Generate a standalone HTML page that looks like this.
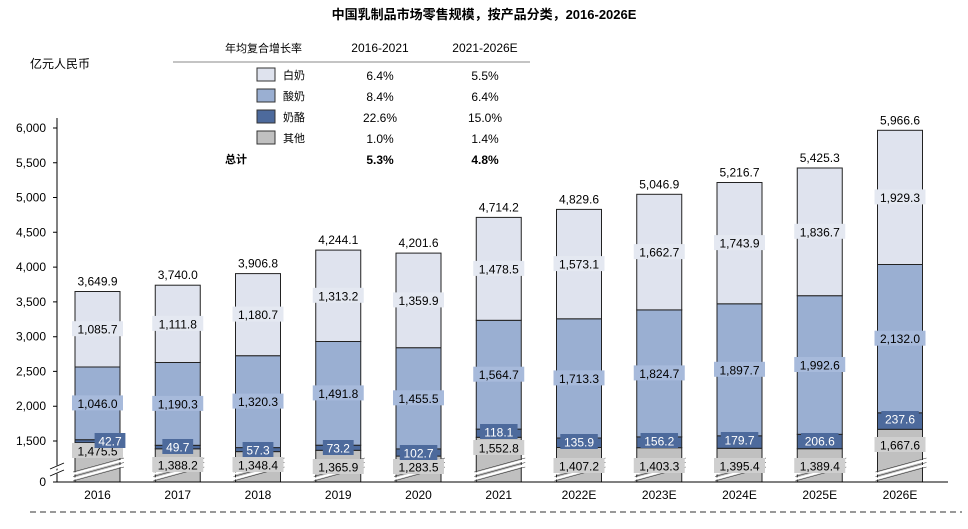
<!DOCTYPE html>
<html><head><meta charset="utf-8"><style>
body{margin:0;background:#fff}
svg text{font-family:"Liberation Sans","Noto Sans CJK SC",sans-serif;font-size:12px}
.o{fill:#c0c0c0;stroke:#222;stroke-width:1}
.c{fill:#4d6a9c;stroke:#222;stroke-width:1}
.y{fill:#9aafd2;stroke:#222;stroke-width:1}
.w{fill:#dfe3ee;stroke:#222;stroke-width:1}
.lw{fill:#e4e8f1}.ly{fill:#a7badb}.lc{fill:#4d6a9c}.lo{fill:#cfcfcf}
.m{text-anchor:middle}.wt{fill:#fff}
</style></head><body>
<svg width="968" height="524" viewBox="0 0 968 524" xmlns="http://www.w3.org/2000/svg">
<defs>
<g id="brk">
<path d="M-24.5 474 L26.5 460 M-24.5 479 L26.5 465" stroke="#fff" stroke-width="2.2" fill="none"/>
<path d="M-24.5 472 L26.5 458 M-24.5 476.5 L26.5 462.5 M-24.5 481 L26.5 467" stroke="#333" stroke-width="0.6" fill="none"/>
</g>
</defs>
<text x="484" y="19" class="m" style="font-size:13px;font-weight:bold">中国乳制品市场零售规模，按产品分类，2016-2026E</text>
<text x="30" y="68">亿元人民币</text>
<text x="225" y="52" style="font-size:11px">年均复合增长率</text>
<text x="380" y="52" class="m">2016-2021</text>
<text x="485" y="52" class="m">2021-2026E</text>
<line x1="173" y1="62" x2="530" y2="62" stroke="#888"/>
<rect x="257" y="68" width="18" height="13" fill="#dfe3ee" stroke="#333"/><text x="283" y="79" style="font-size:11px">白奶</text>
<rect x="257" y="89" width="18" height="13" fill="#9aafd2" stroke="#333"/><text x="283" y="100" style="font-size:11px">酸奶</text>
<rect x="257" y="110" width="18" height="13" fill="#4d6a9c" stroke="#333"/><text x="283" y="121" style="font-size:11px">奶酪</text>
<rect x="257" y="131" width="18" height="13" fill="#c0c0c0" stroke="#333"/><text x="283" y="142" style="font-size:11px">其他</text>
<text x="225" y="163" style="font-size:11px;font-weight:bold">总计</text>
<text x="380" y="80" class="m">6.4%</text><text x="485" y="80" class="m">5.5%</text>
<text x="380" y="101" class="m">8.4%</text><text x="485" y="101" class="m">6.4%</text>
<text x="380" y="122" class="m">22.6%</text><text x="485" y="122" class="m">15.0%</text>
<text x="380" y="143" class="m">1.0%</text><text x="485" y="143" class="m">1.4%</text>
<text x="380" y="164" class="m" style="font-weight:bold">5.3%</text><text x="485" y="164" class="m" style="font-weight:bold">4.8%</text>

<!-- y axis -->
<g style="text-anchor:end">
<text x="46" y="486">0</text>
<text x="46" y="445">1,500</text>
<text x="46" y="410.2">2,000</text>
<text x="46" y="375.4">2,500</text>
<text x="46" y="340.7">3,000</text>
<text x="46" y="305.9">3,500</text>
<text x="46" y="271.1">4,000</text>
<text x="46" y="236.3">4,500</text>
<text x="46" y="201.5">5,000</text>
<text x="46" y="166.8">5,500</text>
<text x="46" y="132">6,000</text>
</g>
<path d="M53 482H57M53 441H57M53 406.2H57M53 371.4H57M53 336.7H57M53 301.9H57M53 267.1H57M53 232.3H57M53 197.5H57M53 162.8H57M53 128H57" stroke="#000"/>

<!-- 2016 -->
<g transform="translate(97.5,0)">
<rect x="-22.5" y="442.7" width="45" height="39.3" class="o"/><rect x="-22.5" y="439.7" width="45" height="3" class="c"/><rect x="-22.5" y="367" width="45" height="72.7" class="y"/><rect x="-22.5" y="291.5" width="45" height="75.5" class="w"/>
<use href="#brk"/>
<text y="285.5" class="m">3,649.9</text>
<rect x="-25.5" y="321.2" width="51" height="15" class="lw"/><text y="333.7" class="m">1,085.7</text>
<rect x="-25.5" y="395.4" width="51" height="15" class="ly"/><text y="407.9" class="m">1,046.0</text>
<rect x="-25.5" y="443" width="51" height="15" class="lo"/><text y="455.5" class="m">1,475.5</text>
<rect x="-2.9" y="433" width="30.8" height="15" class="lc"/><text x="12.5" y="445.5" class="m wt">42.7</text>
<text y="499" class="m">2016</text>
</g>
<!-- 2017 -->
<g transform="translate(177.75,0)">
<rect x="-22.5" y="448.8" width="45" height="33.2" class="o"/><rect x="-22.5" y="445.3" width="45" height="3.5" class="c"/><rect x="-22.5" y="362.5" width="45" height="82.8" class="y"/><rect x="-22.5" y="285.2" width="45" height="77.3" class="w"/>
<use href="#brk"/>
<text y="279.2" class="m">3,740.0</text>
<rect x="-25.5" y="315.9" width="51" height="15" class="lw"/><text y="328.4" class="m">1,111.8</text>
<rect x="-25.5" y="395.9" width="51" height="15" class="ly"/><text y="408.4" class="m">1,190.3</text>
<rect x="-25.5" y="457" width="51" height="15" class="lo"/><text y="469.5" class="m">1,388.2</text>
<rect x="-15.4" y="439" width="30.8" height="15" class="lc"/><text y="451.5" class="m wt">49.7</text>
<text y="499" class="m">2017</text>
</g>
<!-- 2018 -->
<g transform="translate(258,0)">
<rect x="-22.5" y="451.6" width="45" height="30.4" class="o"/><rect x="-22.5" y="447.6" width="45" height="4" class="c"/><rect x="-22.5" y="355.7" width="45" height="91.9" class="y"/><rect x="-22.5" y="273.6" width="45" height="82.1" class="w"/>
<use href="#brk"/>
<text y="267.6" class="m">3,906.8</text>
<rect x="-25.5" y="306.6" width="51" height="15" class="lw"/><text y="319.1" class="m">1,180.7</text>
<rect x="-25.5" y="393.6" width="51" height="15" class="ly"/><text y="406.1" class="m">1,320.3</text>
<rect x="-25.5" y="457" width="51" height="15" class="lo"/><text y="469.5" class="m">1,348.4</text>
<rect x="-15.4" y="442" width="30.8" height="15" class="lc"/><text y="454.5" class="m wt">57.3</text>
<text y="499" class="m">2018</text>
</g>
<!-- 2019 -->
<g transform="translate(338.25,0)">
<rect x="-22.5" y="450.3" width="45" height="31.7" class="o"/><rect x="-22.5" y="445.2" width="45" height="5.1" class="c"/><rect x="-22.5" y="341.5" width="45" height="103.7" class="y"/><rect x="-22.5" y="250.1" width="45" height="91.4" class="w"/>
<use href="#brk"/>
<text y="244.1" class="m">4,244.1</text>
<rect x="-25.5" y="287.8" width="51" height="15" class="lw"/><text y="300.3" class="m">1,313.2</text>
<rect x="-25.5" y="385.4" width="51" height="15" class="ly"/><text y="397.9" class="m">1,491.8</text>
<rect x="-25.5" y="459" width="51" height="15" class="lo"/><text y="471.5" class="m">1,365.9</text>
<rect x="-15.4" y="440" width="30.8" height="15" class="lc"/><text y="452.5" class="m wt">73.2</text>
<text y="499" class="m">2019</text>
</g>
<!-- 2020 -->
<g transform="translate(418.5,0)">
<rect x="-22.5" y="456.1" width="45" height="25.9" class="o"/><rect x="-22.5" y="448.9" width="45" height="7.2" class="c"/><rect x="-22.5" y="347.7" width="45" height="101.2" class="y"/><rect x="-22.5" y="253.1" width="45" height="94.6" class="w"/>
<use href="#brk"/>
<text y="247.1" class="m">4,201.6</text>
<rect x="-25.5" y="292.4" width="51" height="15" class="lw"/><text y="304.9" class="m">1,359.9</text>
<rect x="-25.5" y="390.3" width="51" height="15" class="ly"/><text y="402.8" class="m">1,455.5</text>
<rect x="-25.5" y="459" width="51" height="15" class="lo"/><text y="471.5" class="m">1,283.5</text>
<rect x="-18.7" y="445" width="37.5" height="15" class="lc"/><text y="457.5" class="m wt">102.7</text>
<text y="499" class="m">2020</text>
</g>
<!-- 2021 -->
<g transform="translate(498.75,0)">
<rect x="-22.5" y="437.3" width="45" height="44.7" class="o"/><rect x="-22.5" y="429.1" width="45" height="8.2" class="c"/><rect x="-22.5" y="320.3" width="45" height="108.8" class="y"/><rect x="-22.5" y="217.4" width="45" height="102.9" class="w"/>
<use href="#brk"/>
<text y="211.4" class="m">4,714.2</text>
<rect x="-25.5" y="260.9" width="51" height="15" class="lw"/><text y="273.4" class="m">1,478.5</text>
<rect x="-25.5" y="366.7" width="51" height="15" class="ly"/><text y="379.2" class="m">1,564.7</text>
<rect x="-25.5" y="440" width="51" height="15" class="lo"/><text y="452.5" class="m">1,552.8</text>
<rect x="-18.7" y="424" width="37.5" height="15" class="lc"/><text y="436.5" class="m wt">118.1</text>
<text y="499" class="m">2021</text>
</g>
<!-- 2022E -->
<g transform="translate(579,0)">
<rect x="-22.5" y="447.5" width="45" height="34.5" class="o"/><rect x="-22.5" y="438" width="45" height="9.5" class="c"/><rect x="-22.5" y="318.8" width="45" height="119.2" class="y"/><rect x="-22.5" y="209.4" width="45" height="109.4" class="w"/>
<use href="#brk"/>
<text y="203.4" class="m">4,829.6</text>
<rect x="-25.5" y="256.1" width="51" height="15" class="lw"/><text y="268.6" class="m">1,573.1</text>
<rect x="-25.5" y="370.4" width="51" height="15" class="ly"/><text y="382.9" class="m">1,713.3</text>
<rect x="-25.5" y="458" width="51" height="15" class="lo"/><text y="470.5" class="m">1,407.2</text>
<rect x="-18.7" y="434" width="37.5" height="15" class="lc"/><text y="446.5" class="m wt">135.9</text>
<text y="499" class="m">2022E</text>
</g>
<!-- 2023E -->
<g transform="translate(659.25,0)">
<rect x="-22.5" y="447.7" width="45" height="34.3" class="o"/><rect x="-22.5" y="436.9" width="45" height="10.8" class="c"/><rect x="-22.5" y="309.9" width="45" height="127" class="y"/><rect x="-22.5" y="194.3" width="45" height="115.6" class="w"/>
<use href="#brk"/>
<text y="188.3" class="m">5,046.9</text>
<rect x="-25.5" y="244.1" width="51" height="15" class="lw"/><text y="256.6" class="m">1,662.7</text>
<rect x="-25.5" y="365.4" width="51" height="15" class="ly"/><text y="377.9" class="m">1,824.7</text>
<rect x="-25.5" y="458" width="51" height="15" class="lo"/><text y="470.5" class="m">1,403.3</text>
<rect x="-18.7" y="433" width="37.5" height="15" class="lc"/><text y="445.5" class="m wt">156.2</text>
<text y="499" class="m">2023E</text>
</g>
<!-- 2024E -->
<g transform="translate(739.5,0)">
<rect x="-22.5" y="448.3" width="45" height="33.7" class="o"/><rect x="-22.5" y="435.8" width="45" height="12.5" class="c"/><rect x="-22.5" y="303.8" width="45" height="132" class="y"/><rect x="-22.5" y="182.5" width="45" height="121.3" class="w"/>
<use href="#brk"/>
<text y="176.5" class="m">5,216.7</text>
<rect x="-25.5" y="235.1" width="51" height="15" class="lw"/><text y="247.6" class="m">1,743.9</text>
<rect x="-25.5" y="361.8" width="51" height="15" class="ly"/><text y="374.3" class="m">1,897.7</text>
<rect x="-25.5" y="458" width="51" height="15" class="lo"/><text y="470.5" class="m">1,395.4</text>
<rect x="-18.7" y="432" width="37.5" height="15" class="lc"/><text y="444.5" class="m wt">179.7</text>
<text y="499" class="m">2024E</text>
</g>
<!-- 2025E -->
<g transform="translate(819.75,0)">
<rect x="-22.5" y="448.7" width="45" height="33.3" class="o"/><rect x="-22.5" y="434.3" width="45" height="14.4" class="c"/><rect x="-22.5" y="295.7" width="45" height="138.6" class="y"/><rect x="-22.5" y="168" width="45" height="127.7" class="w"/>
<use href="#brk"/>
<text y="162" class="m">5,425.3</text>
<rect x="-25.5" y="223.8" width="51" height="15" class="lw"/><text y="236.3" class="m">1,836.7</text>
<rect x="-25.5" y="357" width="51" height="15" class="ly"/><text y="369.5" class="m">1,992.6</text>
<rect x="-25.5" y="458" width="51" height="15" class="lo"/><text y="470.5" class="m">1,389.4</text>
<rect x="-18.7" y="433" width="37.5" height="15" class="lc"/><text y="445.5" class="m wt">206.6</text>
<text y="499" class="m">2025E</text>
</g>
<!-- 2026E -->
<g transform="translate(900,0)">
<rect x="-22.5" y="429.3" width="45" height="52.7" class="o"/><rect x="-22.5" y="412.8" width="45" height="16.5" class="c"/><rect x="-22.5" y="264.5" width="45" height="148.3" class="y"/><rect x="-22.5" y="130.3" width="45" height="134.2" class="w"/>
<use href="#brk"/>
<text y="124.3" class="m">5,966.6</text>
<rect x="-25.5" y="189.4" width="51" height="15" class="lw"/><text y="201.9" class="m">1,929.3</text>
<rect x="-25.5" y="330.7" width="51" height="15" class="ly"/><text y="343.2" class="m">2,132.0</text>
<rect x="-25.5" y="437" width="51" height="15" class="lo"/><text y="449.5" class="m">1,667.6</text>
<rect x="-18.7" y="411" width="37.5" height="15" class="lc"/><text y="423.5" class="m wt">237.6</text>
<text y="499" class="m">2026E</text>
</g>

<line x1="57" y1="118" x2="57" y2="482" stroke="#000"/>
<line x1="53" y1="482" x2="948" y2="482" stroke="#000"/>
<path d="M50 470 L64 464 M50 475 L64 469" stroke="#fff" stroke-width="3"/>
<path d="M50 469 L64 463 M50 476 L64 470" stroke="#000" stroke-width="0.8"/>
<line x1="30" y1="512" x2="962" y2="512" stroke="#333" stroke-dasharray="6,4"/>
</svg>
</body></html>
